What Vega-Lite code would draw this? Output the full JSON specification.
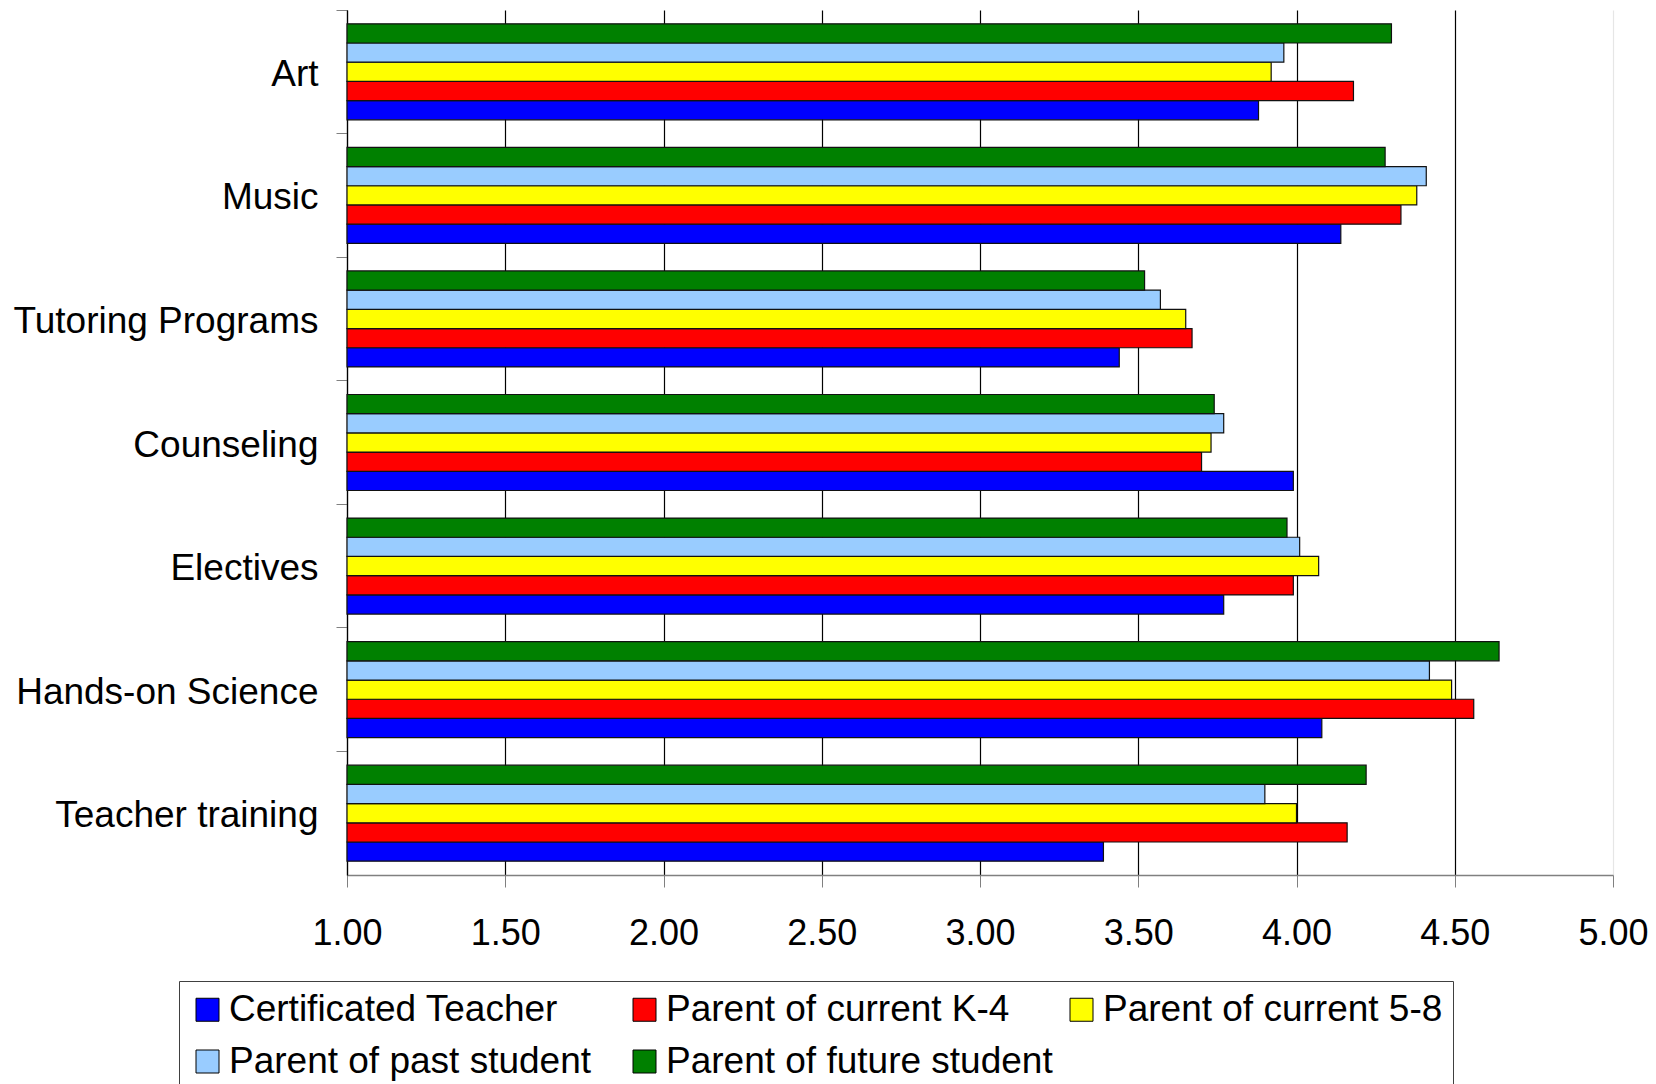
{
  "$schema": "https://vega.github.io/schema/vega-lite/v6.json",
  "width": 1266,
  "height": 865,
  "autosize": {"type": "none"},
  "padding": {"left": 347, "top": 10, "right": 43, "bottom": 209},
  "background": "white",
  "config": {"view": {"stroke": null}, "font": "Liberation Sans"},
  "data": {"values": [
    {"category": "Art", "group": "Certificated Teacher", "value": 3.88},
    {"category": "Art", "group": "Parent of current K-4", "value": 4.18},
    {"category": "Art", "group": "Parent of current 5-8", "value": 3.92},
    {"category": "Art", "group": "Parent of past student", "value": 3.96},
    {"category": "Art", "group": "Parent of future student", "value": 4.30},
    {"category": "Music", "group": "Certificated Teacher", "value": 4.14},
    {"category": "Music", "group": "Parent of current K-4", "value": 4.33},
    {"category": "Music", "group": "Parent of current 5-8", "value": 4.38},
    {"category": "Music", "group": "Parent of past student", "value": 4.41},
    {"category": "Music", "group": "Parent of future student", "value": 4.28},
    {"category": "Tutoring Programs", "group": "Certificated Teacher", "value": 3.44},
    {"category": "Tutoring Programs", "group": "Parent of current K-4", "value": 3.67},
    {"category": "Tutoring Programs", "group": "Parent of current 5-8", "value": 3.65},
    {"category": "Tutoring Programs", "group": "Parent of past student", "value": 3.57},
    {"category": "Tutoring Programs", "group": "Parent of future student", "value": 3.52},
    {"category": "Counseling", "group": "Certificated Teacher", "value": 3.99},
    {"category": "Counseling", "group": "Parent of current K-4", "value": 3.70},
    {"category": "Counseling", "group": "Parent of current 5-8", "value": 3.73},
    {"category": "Counseling", "group": "Parent of past student", "value": 3.77},
    {"category": "Counseling", "group": "Parent of future student", "value": 3.74},
    {"category": "Electives", "group": "Certificated Teacher", "value": 3.77},
    {"category": "Electives", "group": "Parent of current K-4", "value": 3.99},
    {"category": "Electives", "group": "Parent of current 5-8", "value": 4.07},
    {"category": "Electives", "group": "Parent of past student", "value": 4.01},
    {"category": "Electives", "group": "Parent of future student", "value": 3.97},
    {"category": "Hands-on Science", "group": "Certificated Teacher", "value": 4.08},
    {"category": "Hands-on Science", "group": "Parent of current K-4", "value": 4.56},
    {"category": "Hands-on Science", "group": "Parent of current 5-8", "value": 4.49},
    {"category": "Hands-on Science", "group": "Parent of past student", "value": 4.42},
    {"category": "Hands-on Science", "group": "Parent of future student", "value": 4.64},
    {"category": "Teacher training", "group": "Certificated Teacher", "value": 3.39},
    {"category": "Teacher training", "group": "Parent of current K-4", "value": 4.16},
    {"category": "Teacher training", "group": "Parent of current 5-8", "value": 4.00},
    {"category": "Teacher training", "group": "Parent of past student", "value": 3.90},
    {"category": "Teacher training", "group": "Parent of future student", "value": 4.22}
  ]},
  "mark": {"type": "bar", "stroke": "#111111", "strokeWidth": 1.2},
  "encoding": {
    "y": {
      "field": "category", "type": "nominal", "sort": null,
      "scale": {"paddingInner": 0.223, "paddingOuter": 0.1115},
      "axis": {
        "title": null, "labelFontSize": 37, "labelColor": "black", "labelPadding": 18,
        "labelLimit": 500, "tickSize": 11, "tickColor": "#808080", "bandPosition": -0.1435,
        "labelOffset": 3, "domainColor": "black", "domainWidth": 1.2
      }
    },
    "yOffset": {
      "field": "group", "type": "nominal",
      "sort": ["Parent of future student", "Parent of past student", "Parent of current 5-8", "Parent of current K-4", "Certificated Teacher"],
      "scale": {"paddingInner": 0, "paddingOuter": 0}
    },
    "x": {
      "field": "value", "type": "quantitative",
      "scale": {"domain": [1, 5], "nice": false, "zero": false},
      "axis": {
        "values": [1, 1.5, 2, 2.5, 3, 3.5, 4, 4.5, 5], "format": ".2f", "title": null,
        "labelFontSize": 36, "labelColor": "black", "tickColor": "#808080", "tickSize": 12,
        "domainColor": "#808080", "domainWidth": 1.5, "labelPadding": 29, "grid": true,
        "gridColor": {"condition": {"test": "datum.value >= 5", "value": "#e6e6e6"}, "value": "black"},
        "gridWidth": 1.2, "labelFlush": false
      }
    },
    "x2": {"datum": 1},
    "color": {
      "field": "group", "type": "nominal",
      "scale": {
        "domain": ["Certificated Teacher", "Parent of current K-4", "Parent of current 5-8", "Parent of past student", "Parent of future student"],
        "range": ["#0000FF", "#FF0000", "#FFFF00", "#99CCFF", "#008000"]
      },
      "legend": {
        "title": null, "orient": "none", "legendX": -168, "legendY": 971, "columns": 3,
        "direction": "horizontal", "symbolType": "square", "symbolSize": 529,
        "symbolStrokeColor": "black", "symbolStrokeWidth": 1, "symbolOpacity": 1,
        "labelFontSize": 37, "labelColor": "black", "labelOffset": 3, "labelLimit": 600,
        "columnPadding": 10, "rowPadding": 14, "gridAlign": "all", "padding": 10,
        "strokeColor": "#404040"
      }
    }
  }
}
